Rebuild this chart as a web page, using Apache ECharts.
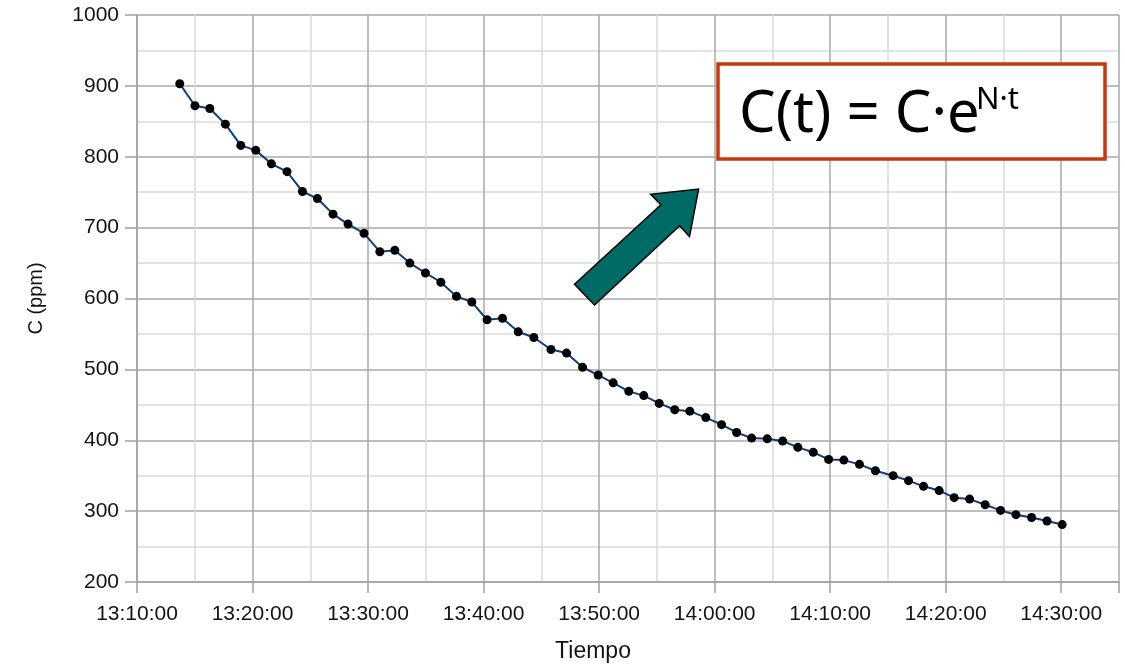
<!DOCTYPE html>
<html>
<head>
<meta charset="utf-8">
<script src="https://cdn.jsdelivr.net/npm/echarts@6/dist/echarts.min.js"></script>
<style>
  html, body { margin: 0; padding: 0; background: #fff; }
  #chart { width: 1125px; height: 668px; }
</style>
</head>
<body>
<div id="chart"></div>
<script>
// tiempos de medida (hh:mm:ss)
const tiempos = [
  '13:13:42', '13:15:01', '13:16:18', '13:17:39', '13:18:59', '13:20:17', '13:21:38', '13:22:59',
  '13:24:19', '13:25:37', '13:26:58', '13:28:16', '13:29:39', '13:31:01', '13:32:19', '13:33:37',
  '13:34:58', '13:36:18', '13:37:39', '13:38:59', '13:40:18', '13:41:38', '13:43:00', '13:44:21',
  '13:45:50', '13:47:11', '13:48:34', '13:49:55', '13:51:13', '13:52:34', '13:53:52', '13:55:12',
  '13:56:33', '13:57:51', '13:59:14', '14:00:36', '14:01:54', '14:03:12', '14:04:33', '14:05:53',
  '14:07:12', '14:08:32', '14:09:52', '14:11:11', '14:12:32', '14:13:55', '14:15:27', '14:16:47',
  '14:18:05', '14:19:26', '14:20:44', '14:22:04', '14:23:25', '14:24:45', '14:26:05', '14:27:26',
  '14:28:46', '14:30:05'
];
// concentracion C (ppm)
const concentracion = [
  903, 872, 868, 846, 816, 809, 790, 779,
  751, 741, 719, 705, 692, 666, 668, 650,
  636, 623, 603, 595, 570, 572, 553, 545,
  528, 523, 503, 492, 481, 469, 463, 452,
  443, 441, 432, 422, 411, 403, 402, 399,
  390, 383, 373, 372, 366, 357, 350, 343,
  335, 329, 319, 317, 309, 301, 295, 291,
  286, 281
];
const ecuacion = 'C(t) = C·e';
const exponente = 'N·t';

function toSec(s) {
  const p = s.split(':').map(Number);
  return p[0] * 3600 + p[1] * 60 + p[2];
}
function toHms(v) {
  const h = Math.floor(v / 3600);
  const m = Math.floor((v % 3600) / 60);
  const s = v % 60;
  const pad = n => (n < 10 ? '0' : '') + n;
  return h + ':' + pad(m) + ':' + pad(s);
}

const data = tiempos.map((t, i) => [toSec(t), concentracion[i]]);

const chart = echarts.init(document.getElementById('chart'), null, { renderer: 'canvas' });

const majorGrid = { show: true, lineStyle: { color: '#a9a9a9', width: 1.5 } };
const minorGrid = { show: true, lineStyle: { color: '#dadada', width: 1.5 } };
const labelFont = { fontFamily: 'Liberation Sans', fontSize: 21, color: '#141414' };

chart.setOption({
  animation: false,
  backgroundColor: '#ffffff',
  grid: { left: 137, right: 6, top: 15, bottom: 86, containLabel: false },
  xAxis: {
    type: 'value',
    min: toSec('13:10:00'),
    max: toSec('14:35:00'),
    interval: 600,
    name: 'Tiempo',
    nameLocation: 'middle',
    nameGap: 58,
    nameTextStyle: { fontFamily: 'Liberation Sans', fontSize: 23, color: '#141414', padding: [0, 70, 0, 0] },
    axisLine: { show: true, lineStyle: { color: '#a0a0a0', width: 1.5 } },
    axisTick: { show: true, length: 11, lineStyle: { color: '#a0a0a0', width: 1.5 } },
    axisLabel: Object.assign({
      margin: 22,
      formatter: v => (v % 600 === 0 ? toHms(v) : '')
    }, labelFont),
    splitLine: majorGrid,
    minorTick: { show: false, splitNumber: 2 },
    minorSplitLine: minorGrid
  },
  yAxis: {
    type: 'value',
    min: 200,
    max: 1000,
    interval: 100,
    name: 'C (ppm)',
    nameLocation: 'middle',
    nameGap: 91,
    nameRotate: 90,
    nameTextStyle: { fontFamily: 'Liberation Sans', fontSize: 20, color: '#141414' },
    axisLine: { show: true, lineStyle: { color: '#a0a0a0', width: 1.5 } },
    axisTick: { show: true, length: 12, lineStyle: { color: '#a0a0a0', width: 1.5 } },
    axisLabel: Object.assign({ margin: 18, formatter: v => String(v) }, labelFont),
    splitLine: majorGrid,
    minorTick: { show: false, splitNumber: 2 },
    minorSplitLine: minorGrid
  },
  series: [{
    type: 'line',
    data: data,
    symbol: 'circle',
    symbolSize: 9,
    lineStyle: { color: '#0b3f7a', width: 2 },
    itemStyle: { color: '#000000' },
    z: 5
  }],
  graphic: [
    {
      type: 'rect',
      shape: { x: 718, y: 64, width: 387, height: 95 },
      style: { fill: '#ffffff', stroke: '#c9360f', lineWidth: 3.5 },
      z: 10
    },
    {
      type: 'text',
      style: {
        x: 739, y: 115, text: ecuacion,
        font: '58px "Noto Sans"', fill: '#000000',
        verticalAlign: 'middle', align: 'left'
      },
      z: 11
    },
    {
      type: 'text',
      style: {
        x: 976, y: 100, text: exponente,
        font: '31px "Noto Sans"', fill: '#000000',
        verticalAlign: 'middle', align: 'left'
      },
      z: 11
    },
    {
      type: 'polygon',
      shape: {
        points: [
          [698.6, 189], [689.5, 236.7], [679.7, 225.7], [594.5, 305],
          [574.5, 284.3], [660.9, 204.7], [650.7, 194.3]
        ]
      },
      style: { fill: '#006a65', stroke: '#000000', lineWidth: 1.5 },
      z: 10
    }
  ]
});
</script>
</body>
</html>
